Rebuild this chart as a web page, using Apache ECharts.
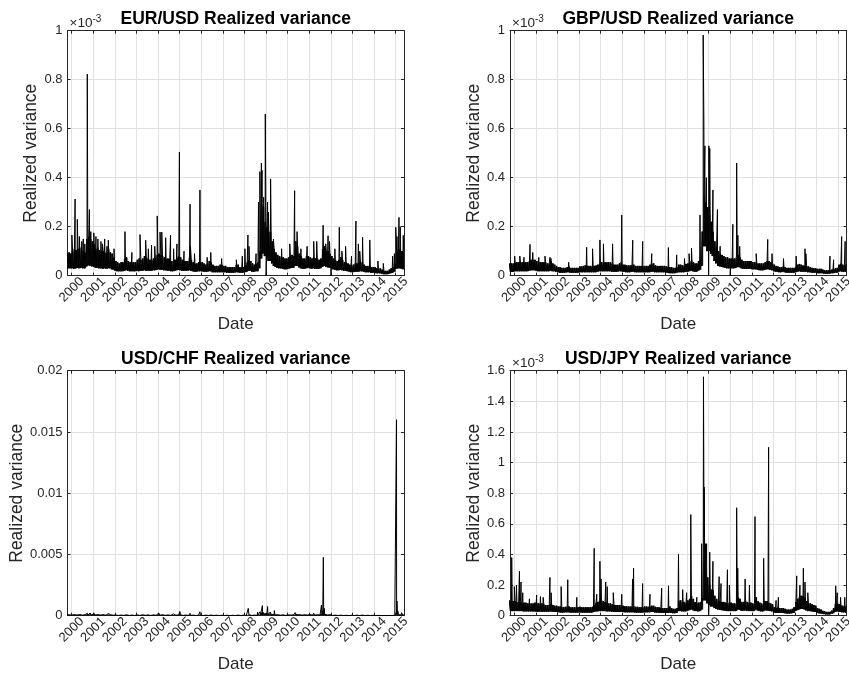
<!DOCTYPE html>
<html>
<head>
<meta charset="utf-8">
<title>Realized variance</title>
<script src="https://cdn.jsdelivr.net/npm/echarts@6/dist/echarts.min.js"></script>
<style>
  html, body { margin: 0; padding: 0; background: #fff; }
  #chart { width: 849px; height: 678px; }
</style>
</head>
<body>
<div id="chart"></div>
<script>
// Daily realized variance, summarised month by month: the lower edge of the
// dense band (day 1) and its upper edge (day 16), in units of 1e-6.
// Rows are calendar years; the first row holds Oct-Dec 1999, the last Jan-May 2015.
const FIRST_YEAR = 1999;
const FIRST_MONTH = 9; // October, zero-based
const UNIT = 1e-6;
const TICK_YEARS = [2000, 2001, 2002, 2003, 2004, 2005, 2006, 2007,
                    2008, 2009, 2010, 2011, 2012, 2013, 2014, 2015];

const eurLow = [
  28,30,30,
  30,28,30,32,30,32,30,30,38,42,40,38,
  36,32,32,30,30,28,30,28,30,30,26,24,
  20,18,18,18,18,20,22,20,18,18,18,18,
  20,18,20,20,22,20,20,20,20,22,22,24,
  26,24,24,22,22,20,20,18,18,20,22,24,
  22,20,20,20,20,22,20,18,16,16,18,18,
  18,16,16,16,18,18,14,14,14,14,14,14,
  14,14,12,12,12,12,12,14,14,12,12,12,
  14,16,20,20,16,16,18,18,30,70,90,80,
  70,60,60,50,40,36,32,30,30,28,26,26,
  28,30,32,32,40,40,34,30,28,28,30,32,
  30,28,30,28,28,28,30,36,40,36,34,32,
  28,26,24,22,22,24,22,20,20,18,16,14,
  14,16,16,16,18,18,16,14,14,14,12,12,
  12,10,10,10,8,6,6,6,8,10,12,16,
  28,30,30,28,26
];
const eurHigh = [
  90,95,90,
  100,110,105,110,115,105,100,95,150,160,150,140,
  130,110,115,105,100,100,95,95,110,95,90,75,
  60,55,50,55,55,70,75,60,55,55,55,55,
  65,70,65,70,80,75,70,65,65,70,75,85,
  90,85,80,75,70,70,70,60,60,65,75,80,
  75,65,60,60,60,75,65,55,50,50,55,55,
  55,50,45,50,60,55,45,40,40,40,45,45,
  40,40,35,35,35,35,35,45,45,35,35,35,
  45,55,65,60,50,45,50,55,100,270,280,220,
  200,180,180,140,110,95,85,80,75,75,70,70,
  75,80,85,80,140,120,90,80,70,70,80,80,
  75,70,75,70,70,65,70,110,120,100,100,90,
  80,70,65,60,65,75,65,55,55,50,45,40,
  45,50,50,55,55,55,45,40,40,40,35,35,
  35,30,30,30,25,20,20,20,25,30,35,50,
  100,110,110,100,100
];
// Isolated days standing out of the band (date, value in 1e-6)
const eurSpikes = [
  ['2000-01-04',166],['2000-02-28',313],['2000-04-05',230],['2000-05-10',160],
  ['2000-06-20',140],['2000-07-15',150],['2000-08-10',130],['2000-09-21',823],
  ['2000-10-27',270],['2000-11-20',180],['2001-01-10',175],['2001-02-15',160],
  ['2001-03-20',150],['2001-05-10',140],['2001-06-05',130],['2001-07-12',150],
  ['2001-08-20',120],['2001-09-12',145],['2001-12-17',110],['2002-06-20',180],
  ['2002-10-15',95],['2003-03-01',168],['2003-06-05',145],['2003-07-20',110],
  ['2003-09-12',125],['2003-11-05',120],['2003-12-17',244],['2004-02-03',178],
  ['2004-03-03',178],['2004-05-08',155],['2004-07-30',165],['2004-09-20',110],
  ['2004-11-15',130],['2004-12-27',505],['2005-03-15',100],['2005-06-25',292],
  ['2005-07-01',120],['2005-09-08',90],['2005-12-09',350],['2006-04-10',75],
  ['2006-06-10',95],['2006-12-10',70],['2007-08-16',65],['2007-11-25',80],
  ['2008-01-08',110],['2008-02-28',166],['2008-03-17',120],['2008-07-15',90],
  ['2008-08-25',300],['2008-09-17',425],['2008-10-13',460],['2008-10-24',430],
  ['2008-11-20',320],['2008-12-18',660],['2009-01-01',0],['2009-01-26',300],
  ['2009-02-10',260],['2009-03-18',395],['2009-05-05',150],['2009-09-20',110],
  ['2010-02-05',130],['2010-04-28',347],['2010-06-08',180],['2010-08-12',110],
  ['2010-11-25',120],['2011-03-16',140],['2011-05-06',140],['2011-08-22',206],
  ['2011-10-05',130],['2011-11-14',163],['2011-12-08',140],['2012-01-02',0],
  ['2012-03-08',110],['2012-05-22',198],['2012-07-05',100],['2012-09-06',120],
  ['2012-12-15',80],['2013-02-28',223],['2013-04-10',130],['2013-05-03',100],
  ['2013-06-20',157],['2013-10-20',146],['2014-03-06',60],['2014-06-05',50],
  ['2014-11-10',80],['2014-12-10',90],['2015-01-02',198],['2015-01-22',160],
  ['2015-02-25',238],['2015-03-18',200],['2015-05-08',165]
];

const gbpLow = [
  15,15,15,
  18,18,18,18,18,18,18,18,20,22,22,22,
  20,18,18,18,18,18,18,18,20,18,18,16,
  14,12,12,12,12,14,14,12,12,12,12,12,
  14,14,14,14,14,14,14,14,14,14,16,18,
  18,18,18,18,18,18,16,16,16,16,18,18,
  16,16,14,14,14,16,16,14,14,14,14,14,
  14,14,14,14,16,16,14,14,14,14,14,14,
  12,12,10,10,10,10,12,14,14,14,14,16,
  16,18,20,18,16,16,20,24,40,120,120,100,
  100,90,80,60,50,40,38,36,34,32,30,30,
  30,30,30,32,36,34,30,28,28,28,28,28,
  26,26,26,24,22,22,22,24,26,26,24,22,
  18,16,16,14,14,16,14,12,12,12,12,12,
  14,16,18,16,16,16,16,14,14,12,12,12,
  10,10,10,10,8,8,8,8,10,10,12,12,
  16,18,16,16,16
];
const gbpHigh = [
  50,50,50,
  55,55,55,55,55,55,55,55,60,65,65,65,
  60,55,55,55,55,55,50,50,60,50,45,40,
  35,35,32,32,32,35,38,32,32,32,32,32,
  38,38,40,42,42,40,40,40,40,42,45,50,
  55,55,55,55,55,55,50,45,45,45,50,55,
  45,45,42,42,42,45,45,40,40,40,40,40,
  40,40,40,45,50,50,42,40,40,40,40,40,
  38,38,35,35,32,32,35,45,45,42,42,48,
  50,55,60,55,50,50,60,70,180,330,300,280,
  250,220,180,140,120,100,90,85,80,75,75,70,
  70,70,70,75,85,75,65,60,60,60,60,60,
  55,55,55,50,50,50,50,55,60,60,55,50,
  45,40,38,35,35,38,35,32,32,32,32,32,
  38,45,48,45,42,42,40,38,35,32,30,30,
  28,28,28,25,22,22,22,22,25,28,30,32,
  45,50,45,45,45
];
const gbpSpikes = [
  ['2000-01-10',80],['2000-04-05',80],['2000-06-15',75],['2000-09-25',128],
  ['2000-11-10',95],['2001-02-20',75],['2001-06-05',80],['2001-08-28',75],
  ['2001-09-15',70],['2002-07-10',55],['2003-05-10',116],['2003-08-18',110],
  ['2003-12-20',146],['2004-02-18',130],['2004-07-22',130],['2004-12-24',248],
  ['2005-06-28',145],['2005-12-13',140],['2006-05-15',90],['2007-02-20',115],
  ['2007-07-10',85],['2007-11-20',70],['2008-02-05',90],['2008-03-17',113],
  ['2008-08-08',248],['2008-10-01',982],['2008-10-13',624],['2008-10-30',530],
  ['2008-11-25',400],['2009-01-01',0],['2009-01-05',530],['2009-01-20',520],
  ['2009-03-15',350],['2009-05-30',270],['2009-07-15',120],['2010-01-01',0],
  ['2010-02-14',210],['2010-04-20',460],['2010-05-10',165],['2010-06-10',120],
  ['2011-03-16',90],['2011-09-27',148],['2011-12-08',90],['2012-06-20',70],
  ['2013-01-20',80],['2013-06-18',110],['2013-07-04',90],['2014-08-15',80],
  ['2014-10-15',65],['2015-02-28',160],['2015-04-28',140]
];

const chfLow = [
  20,20,20,
  25,25,25,25,25,25,25,25,30,30,30,30,
  30,25,25,25,25,25,25,25,25,25,22,20,
  18,18,18,18,18,20,22,20,18,18,18,18,
  20,18,20,20,22,20,20,20,20,20,20,22,
  24,22,22,22,20,20,20,18,18,18,20,22,
  20,18,18,18,18,20,18,16,16,16,16,16,
  16,16,14,14,16,16,14,14,12,12,12,12,
  12,12,12,12,10,10,12,14,14,14,14,14,
  16,18,22,22,18,16,18,20,30,60,70,60,
  60,50,50,40,35,30,28,26,24,24,22,22,
  24,26,28,28,36,36,30,28,28,28,28,30,
  30,28,30,28,28,28,40,60,40,30,30,28,
  20,18,16,14,14,14,12,10,10,10,10,10,
  12,12,14,14,14,14,12,10,10,10,10,10,
  8,8,8,8,6,5,5,5,6,8,8,10,
  30,30,28,26,24
];
const chfHigh = [
  80,80,80,
  90,95,90,90,95,90,85,85,120,130,120,110,
  110,95,95,90,90,90,85,85,100,85,80,70,
  60,55,55,55,55,70,75,60,55,55,55,55,
  65,65,65,70,75,70,65,60,60,65,65,75,
  80,75,75,70,65,65,65,55,55,60,70,75,
  70,60,55,55,55,70,60,50,45,45,50,50,
  50,45,45,50,55,55,45,40,40,40,40,40,
  40,40,40,40,35,35,40,50,50,45,45,45,
  50,60,80,70,55,50,55,60,110,250,250,200,
  190,170,170,130,100,90,80,75,70,70,65,65,
  70,75,85,80,130,110,90,80,75,75,85,85,
  85,80,85,80,80,85,130,220,140,100,90,85,
  60,55,50,45,45,45,40,35,35,35,35,35,
  40,40,45,45,50,50,40,35,35,35,35,35,
  30,28,28,28,22,18,18,18,22,28,30,45,
  110,100,95,90,85
];
const chfSpikes = [
  ['2000-03-10',250],['2000-09-22',200],['2000-11-08',220],['2001-01-15',200],
  ['2001-09-12',180],['2002-06-20',160],['2004-01-10',220],['2004-03-05',180],
  ['2004-09-15',150],['2005-01-03',350],['2005-06-25',200],['2005-12-09',320],
  ['2006-05-15',150],['2008-03-05',600],['2008-08-10',300],['2008-09-20',320],
  ['2008-10-10',350],['2008-10-30',820],['2008-11-20',300],['2009-01-26',750],
  ['2009-03-12',300],['2009-05-20',420],['2010-05-07',250],['2011-03-16',200],
  ['2011-07-25',870],['2011-08-12',400],['2011-08-26',4770],['2011-09-10',600],
  ['2012-02-15',120],['2013-06-20',150],['2015-01-15',16000],['2015-01-22',1200],
  ['2015-02-05',400],['2015-04-10',250]
];

const jpyLow = [
  30,30,30,
  30,30,30,30,30,28,28,28,28,28,28,28,
  26,26,26,26,26,26,26,26,28,26,24,24,
  22,22,20,20,22,22,22,20,20,20,20,20,
  22,20,20,20,20,20,20,20,24,28,28,30,
  30,30,30,28,28,28,26,24,24,24,24,24,
  24,22,22,22,22,22,22,20,20,20,20,20,
  22,22,22,22,24,24,20,20,20,18,18,18,
  18,18,20,18,16,16,18,30,30,28,28,28,
  32,36,40,36,30,30,28,30,40,100,100,80,
  70,60,60,50,44,40,38,36,34,32,30,30,
  30,30,30,30,40,38,32,32,34,32,30,30,
  30,30,40,34,30,28,28,34,34,32,30,28,
  20,18,18,18,18,18,16,14,14,14,16,18,
  30,36,40,44,44,40,34,30,30,28,26,24,
  18,16,14,12,10,8,8,8,12,16,24,28,
  26,24,22,22,20
];
const jpyHigh = [
  100,100,95,
  95,90,90,90,85,85,85,80,80,80,80,85,
  85,80,80,80,75,70,70,70,80,70,65,65,
  60,60,58,55,58,60,60,55,55,55,55,55,
  58,55,55,55,55,55,55,58,70,85,90,100,
  100,95,90,85,80,80,75,70,70,70,70,70,
  65,62,62,60,60,62,62,58,58,55,55,55,
  60,60,58,60,65,65,58,55,55,52,50,50,
  50,52,60,50,45,45,50,100,100,90,90,85,
  100,110,130,110,90,85,85,90,120,350,300,250,
  200,170,170,130,110,100,95,90,90,85,85,85,
  85,80,80,80,120,110,90,90,100,90,85,85,
  80,80,120,95,85,80,75,95,95,85,80,75,
  55,52,55,50,50,50,45,40,40,40,45,55,
  90,110,120,130,130,120,95,85,80,75,70,65,
  50,45,40,32,28,25,25,25,35,50,80,85,
  75,70,65,65,60
];
const jpySpikes = [
  ['1999-11-20',380],['2000-01-03',190],['2000-02-08',200],['2000-03-30',290],
  ['2000-04-25',220],['2000-05-25',150],['2000-09-15',110],['2001-01-15',135],
  ['2001-03-20',125],['2001-05-05',120],['2001-08-28',250],['2001-09-17',150],
  ['2002-03-05',190],['2002-06-25',235],['2002-11-25',120],['2003-09-15',440],
  ['2003-10-28',140],['2003-12-20',355],['2004-01-08',240],['2004-03-28',220],
  ['2004-04-22',190],['2004-08-02',150],['2004-12-24',140],['2005-06-25',240],
  ['2005-07-12',310],['2005-12-12',210],['2006-04-15',140],['2006-10-30',180],
  ['2007-02-22',195],['2007-08-10',400],['2007-10-20',170],['2007-12-25',150],
  ['2008-03-05',660],['2008-06-15',120],['2008-09-05',470],['2008-10-06',1560],
  ['2008-10-15',600],['2008-10-18',840],['2008-11-10',470],['2008-11-28',470],
  ['2009-01-01',0],['2009-01-20',415],['2009-03-15',355],['2009-06-28',255],
  ['2009-07-30',210],['2009-11-15',300],['2009-12-18',200],['2010-04-20',705],
  ['2010-05-08',310],['2010-09-10',240],['2010-11-22',200],['2011-02-24',647],
  ['2011-07-20',375],['2011-10-12',1100],['2012-02-15',100],['2012-03-25',120],
  ['2013-01-30',260],['2013-03-25',200],['2013-05-22',310],['2013-06-18',220],
  ['2013-08-05',150],['2014-11-20',195],['2014-12-15',150],['2015-02-10',120],
  ['2015-04-22',120]
];

// Calendar date -> fractional year, so that year starts fall on whole numbers.
function decYear(y, m, d) {
  const t = new Date(y, m, d).getTime();
  const y0 = new Date(t).getFullYear();
  const a = new Date(y0, 0, 1).getTime(), b = new Date(y0 + 1, 0, 1).getTime();
  return y0 + (t - a) / (b - a);
}

// Turns a monthly envelope plus its spikes into one time-ordered line.
function buildLine(low, high, spikes) {
  const pts = [];
  for (let i = 0; i < low.length; i++) {
    const m = FIRST_MONTH + i;
    pts.push([decYear(FIRST_YEAR, m, 1), low[i] * UNIT]);
    pts.push([decYear(FIRST_YEAR, m, 16), high[i] * UNIT]);
  }
  spikes.forEach(function (s) {
    const p = s[0].split('-').map(Number);
    pts.push([decYear(p[0], p[1] - 1, p[2]), s[1] * UNIT]);
  });
  pts.sort(function (a, b) { return a[0] - b[0]; });
  return pts;
}

// The dense core of each month: [month start, month end, low, high].
function buildBand(low, high) {
  return low.map(function (lo, i) {
    const m = FIRST_MONTH + i;
    return [decYear(FIRST_YEAR, m, 1), decYear(FIRST_YEAR, m + 1, 1), lo * UNIT, high[i] * UNIT];
  });
}

function renderBand(params, api) {
  const a = api.coord([api.value(0), api.value(2)]);
  const b = api.coord([api.value(1), api.value(3)]);
  const cs = params.coordSys;
  const rect = echarts.graphic.clipRectByRect(
    { x: a[0], y: b[1], width: b[0] - a[0], height: a[1] - b[1] },
    { x: cs.x, y: cs.y, width: cs.width, height: cs.height });
  return rect && { type: 'rect', shape: rect, style: { fill: '#111' } };
}

const INK = '#262626';
const FONT = '"Liberation Sans", Arial, Helvetica, sans-serif';
const X_MIN = decYear(1999, 9, 22);
const X_MAX = decYear(2015, 4, 21);
const PLOT_W = 336.5, PLOT_H = 245;

function milli(v) { return String(+(v * 1e3).toFixed(4)); }
function plain(v) { return String(+v.toFixed(5)); }
function year(v) { return String(Math.round(v)); }

const panels = [
  { title: 'EUR/USD Realized variance', left: 67.5, top: 30.7, max: 1e-3, step: 0.2e-3, fmt: milli, exp: true,
    low: eurLow, high: eurHigh, spikes: eurSpikes },
  { title: 'GBP/USD Realized variance', left: 510, top: 30.7, max: 1e-3, step: 0.2e-3, fmt: milli, exp: true,
    low: gbpLow, high: gbpHigh, spikes: gbpSpikes },
  { title: 'USD/CHF Realized variance', left: 67.5, top: 370.7, max: 0.02, step: 0.005, fmt: plain, exp: false,
    low: chfLow, high: chfHigh, spikes: chfSpikes },
  { title: 'USD/JPY Realized variance', left: 510, top: 370.7, max: 1.6e-3, step: 0.2e-3, fmt: milli, exp: true,
    low: jpyLow, high: jpyHigh, spikes: jpySpikes }
];

const grid = [], xAxis = [], yAxis = [], series = [], graphic = [];
const lineStyle = { show: true, onZero: false, lineStyle: { color: INK, width: 1 } };
const gridLine = { show: true, lineStyle: { color: '#e1e1e1', width: 1 } };

panels.forEach(function (p, i) {
  grid.push({ left: p.left, top: p.top, width: PLOT_W, height: PLOT_H,
              containLabel: false, outerBoundsMode: 'none' });
  const yearBase = {
    type: 'value', gridIndex: i, min: X_MIN, max: X_MAX, axisLine: lineStyle,
    axisTick: { show: true, inside: true, length: 3, customValues: TICK_YEARS,
                lineStyle: { color: INK, width: 1 } }
  };
  xAxis.push(Object.assign({}, yearBase, {
    position: 'bottom',
    axisLabel: { customValues: TICK_YEARS, formatter: year, rotate: 45, margin: 14,
                 align: 'center', verticalAlign: 'middle',
                 fontSize: 13, color: INK, fontFamily: FONT },
    splitLine: gridLine,
    name: 'Date', nameLocation: 'middle', nameGap: 40,
    nameTextStyle: { fontSize: 17, color: INK, fontFamily: FONT }
  }));
  xAxis.push(Object.assign({}, yearBase, {
    position: 'top', axisLabel: { show: false }, splitLine: { show: false }
  }));
  const valueBase = { type: 'value', gridIndex: i, min: 0, max: p.max, interval: p.step,
                      axisLine: lineStyle,
                      axisTick: { show: true, inside: true, length: 3, lineStyle: { color: INK, width: 1 } } };
  yAxis.push(Object.assign({}, valueBase, {
    position: 'left',
    axisLabel: { formatter: p.fmt, margin: 5, fontSize: 13, color: INK, fontFamily: FONT },
    splitLine: gridLine,
    name: 'Realized variance', nameLocation: 'middle', nameGap: 27,
    nameTextStyle: { fontSize: 17.5, color: INK, fontFamily: FONT }
  }));
  yAxis.push(Object.assign({}, valueBase, {
    position: 'right', axisLabel: { show: false }, splitLine: { show: false }
  }));
  series.push({
    type: 'custom', xAxisIndex: 2 * i, yAxisIndex: 2 * i, renderItem: renderBand,
    data: buildBand(p.low, p.high), encode: { x: [0, 1], y: [2, 3] }, animation: false, silent: true
  });
  series.push({
    type: 'line', xAxisIndex: 2 * i, yAxisIndex: 2 * i, data: buildLine(p.low, p.high, p.spikes),
    showSymbol: false, symbol: 'none', clip: true, animation: false,
    lineStyle: { color: '#000', width: 1 }
  });
  graphic.push({
    type: 'text', x: p.left + PLOT_W / 2, y: p.top - 12,
    style: { text: p.title, align: 'center', verticalAlign: 'middle',
             font: 'bold 17.5px ' + FONT, fill: '#000' }
  });
  if (p.exp) {
    graphic.push({ type: 'text', x: p.left + 2, y: p.top - 0.5,
      style: { text: '\u00d710', align: 'left', verticalAlign: 'bottom', font: '13.5px ' + FONT, fill: INK } });
    graphic.push({ type: 'text', x: p.left + 25, y: p.top - 6,
      style: { text: '-3', align: 'left', verticalAlign: 'bottom', font: '10px ' + FONT, fill: INK } });
  }
});

const chart = echarts.init(document.getElementById('chart'), null, { renderer: 'canvas' });
chart.setOption({
  backgroundColor: '#fff',
  animation: false,
  grid: grid, xAxis: xAxis, yAxis: yAxis, series: series, graphic: graphic
});
</script>
</body>
</html>
